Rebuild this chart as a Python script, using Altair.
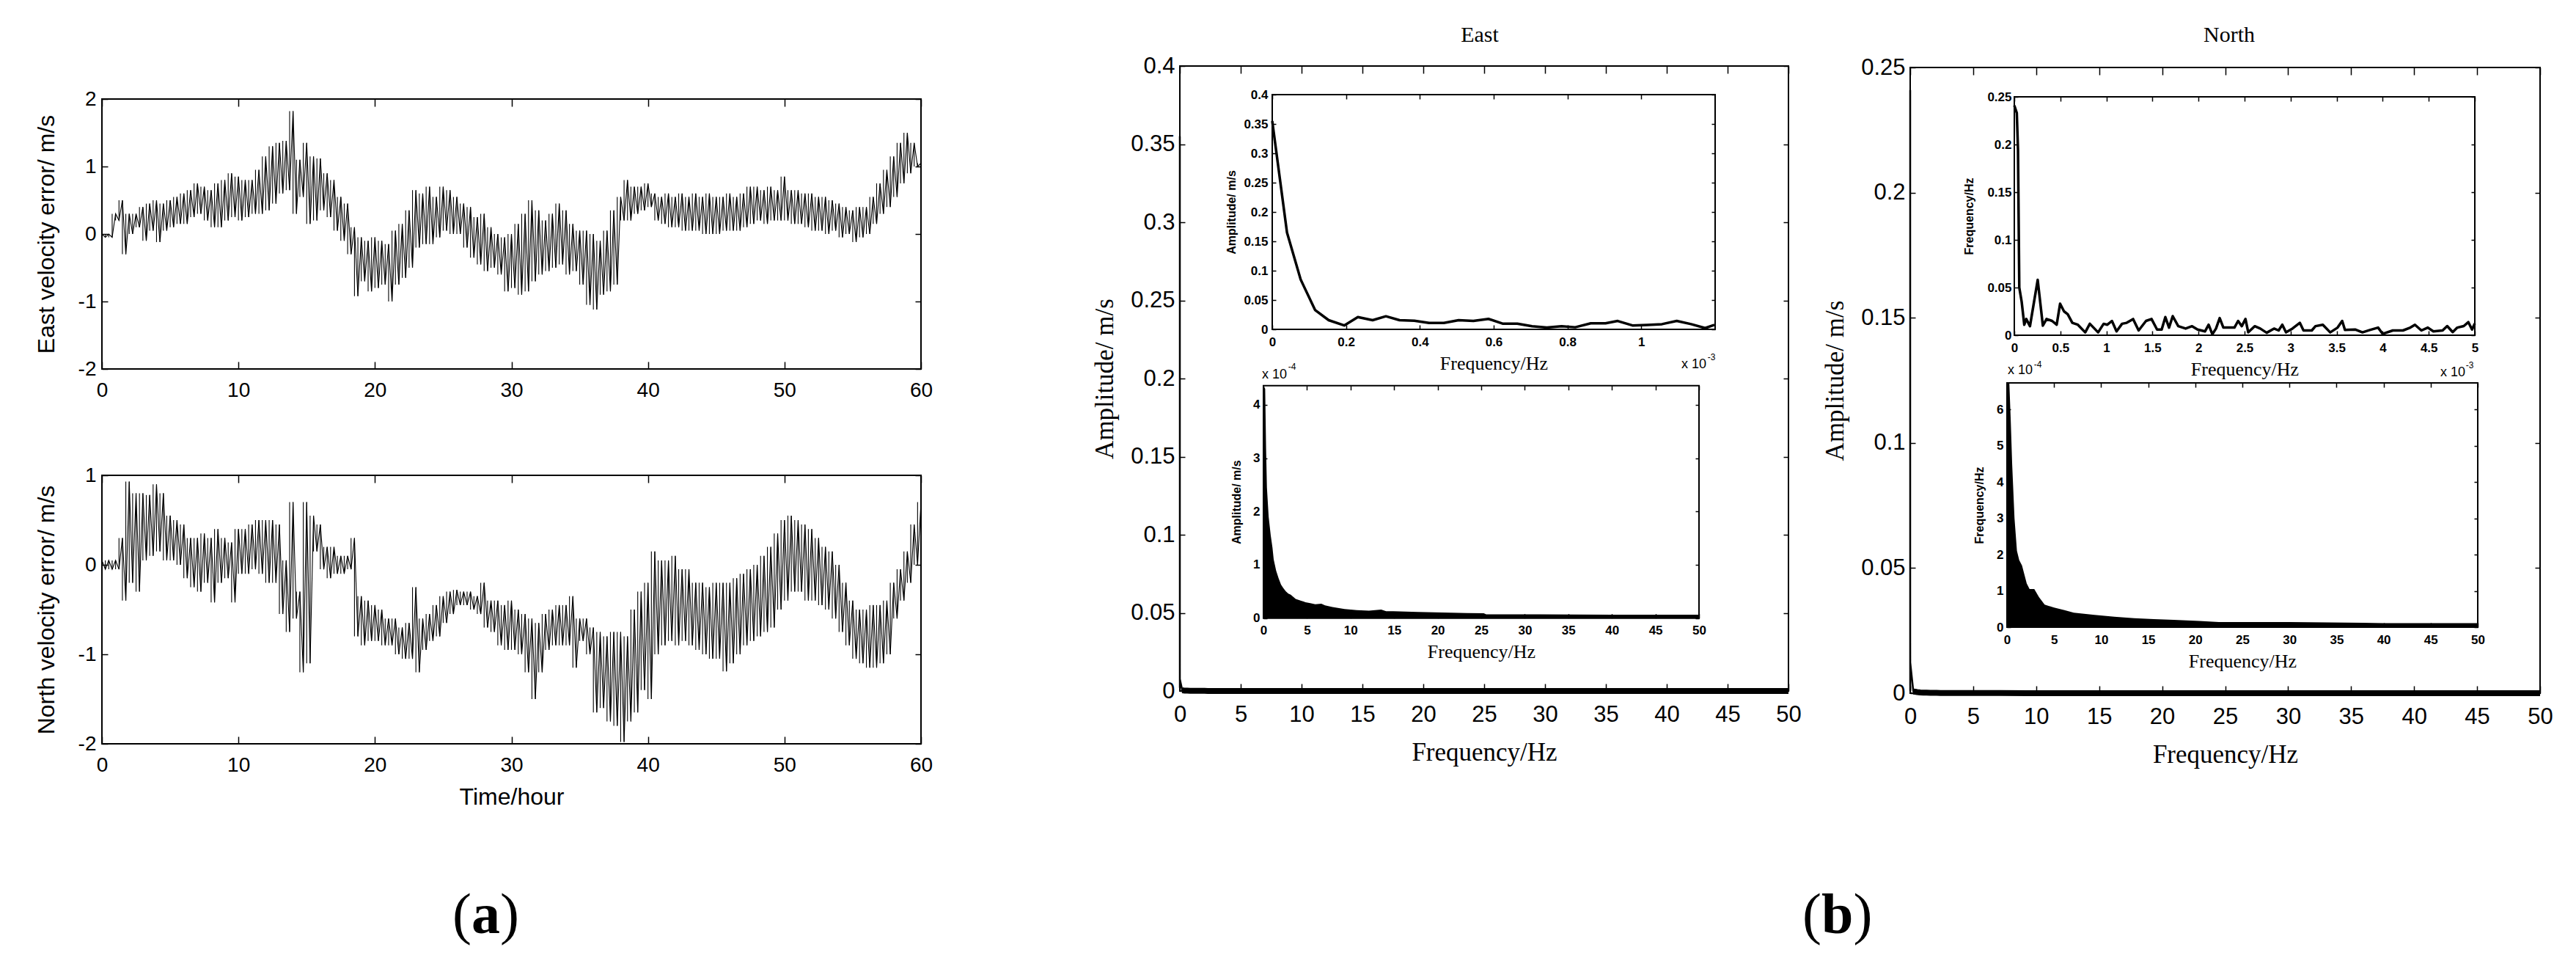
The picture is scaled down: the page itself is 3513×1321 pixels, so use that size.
import altair as alt
import pandas as pd

# ---------------- data ----------------
hours = [i / 2 for i in range(121)]  # sample grid, 0..60 h every 0.5 h

east_hi = [0.0, 0.0, 0.3, 0.5, 0.3, 0.3, 0.4, 0.45, 0.5, 0.45,
           0.5, 0.55, 0.6, 0.65, 0.75, 0.7, 0.65, 0.75, 0.8, 0.9,
           0.85, 0.8, 0.8, 0.95, 1.15, 1.3, 1.35, 1.38, 1.82, 1.1,
           1.35, 1.15, 1.12, 0.9, 0.8, 0.55, 0.45, 0.1, -0.05, -0.1,
           -0.05, -0.1, -0.15, 0.05, 0.15, 0.35, 0.65, 0.6, 0.7, 0.55,
           0.7, 0.65, 0.55, 0.45, 0.4, 0.25, 0.3, 0.1, 0.0, -0.05,
           0.0, 0.15, 0.3, 0.5, 0.35, 0.2, 0.3, 0.45, 0.35, 0.15,
           0.05, 0.05, 0.0, -0.1, 0.05, 0.35, 0.55, 0.8, 0.7, 0.7,
           0.75, 0.6, 0.55, 0.6, 0.55, 0.6, 0.55, 0.6, 0.55, 0.6,
           0.55, 0.55, 0.6, 0.55, 0.6, 0.7, 0.7, 0.65, 0.7, 0.65,
           0.85, 0.65, 0.65, 0.6, 0.6, 0.55, 0.55, 0.5, 0.45, 0.4,
           0.35, 0.4, 0.4, 0.55, 0.75, 0.95, 1.15, 1.35, 1.5, 1.35,
           1.05]
east_lo = [-0.05, -0.05, 0.2, -0.3, 0.0, 0.1, -0.1, 0.05, -0.12, 0.05,
           0.1, 0.15, 0.15, 0.25, 0.3, 0.2, 0.1, 0.1, 0.2, 0.25,
           0.2, 0.25, 0.3, 0.3, 0.35, 0.45, 0.6, 0.65, 0.3, 0.55,
           0.15, 0.2, 0.35, 0.25, 0.05, -0.1, -0.3, -0.92, -0.7, -0.85,
           -0.8, -0.75, -1.0, -0.75, -0.65, -0.5, -0.2, -0.15, -0.15, -0.05,
           0.05, 0.0, 0.0, -0.2, -0.35, -0.45, -0.55, -0.5, -0.6, -0.85,
           -0.8, -0.9, -0.85, -0.7, -0.6, -0.55, -0.5, -0.45, -0.6, -0.55,
           -0.75, -1.05, -1.12, -0.9, -0.85, -0.75, 0.2, 0.2, 0.3, 0.35,
           0.4, 0.2, 0.15, 0.1, 0.1, 0.05, 0.05, 0.05, 0.0, 0.0,
           0.0, 0.05, 0.05, 0.05, 0.1, 0.15, 0.2, 0.15, 0.2, 0.2,
           0.2, 0.15, 0.15, 0.1, 0.05, 0.05, 0.0, 0.05, -0.05, 0.0,
           -0.12, -0.05, 0.0, 0.15, 0.3, 0.4, 0.55, 0.75, 0.9, 1.0,
           0.8]
north_hi = [0.05, 0.05, 0.05, 0.3, 0.93, 0.8, 0.8, 0.78, 0.9, 0.8,
            0.55, 0.5, 0.45, 0.3, 0.3, 0.35, 0.3, 0.4, 0.3, 0.25,
            0.4, 0.4, 0.45, 0.5, 0.5, 0.5, 0.45, 0.05, 0.7, -0.3,
            0.7, 0.55, 0.45, 0.2, 0.2, 0.1, 0.1, 0.3, -0.35, -0.4,
            -0.45, -0.5, -0.6, -0.6, -0.7, -0.65, -0.25, -0.6, -0.55, -0.45,
            -0.35, -0.3, -0.28, -0.3, -0.3, -0.35, -0.2, -0.4, -0.4, -0.45,
            -0.4, -0.5, -0.55, -0.6, -0.65, -0.55, -0.5, -0.45, -0.45, -0.35,
            -0.6, -0.6, -0.7, -0.75, -0.8, -0.75, -0.75, -0.8, -0.5, -0.3,
            -0.2, 0.15, 0.05, 0.05, 0.1, -0.05, -0.05, -0.2, -0.2, -0.25,
            -0.2, -0.2, -0.2, -0.15, -0.1, -0.05, 0.0, 0.1, 0.2, 0.35,
            0.5, 0.55, 0.5, 0.45, 0.4, 0.3, 0.2, 0.15, 0.0, -0.2,
            -0.4, -0.5, -0.5, -0.45, -0.45, -0.4, -0.2, -0.05, 0.15, 0.45,
            0.7]
north_lo = [-0.05, -0.05, -0.05, -0.4, -0.2, -0.3, 0.05, 0.1, 0.15, 0.05,
            0.05, 0.0, -0.15, -0.25, -0.3, -0.2, -0.42, -0.2, -0.15, -0.42,
            -0.1, -0.1, -0.05, -0.1, -0.2, -0.2, -0.55, -0.75, -0.6, -1.2,
            -1.1, 0.15, -0.05, -0.15, -0.1, -0.1, -0.05, -0.8, -0.9, -0.85,
            -0.85, -0.9, -0.9, -1.0, -1.05, -1.05, -1.2, -0.95, -0.85, -0.8,
            -0.65, -0.55, -0.45, -0.45, -0.5, -0.55, -0.7, -0.75, -0.9, -0.95,
            -0.95, -1.0, -1.2, -1.5, -1.2, -0.95, -0.9, -0.9, -0.9, -1.15,
            -0.85, -1.0, -1.65, -1.6, -1.75, -1.8, -1.98, -1.75, -1.65, -1.4,
            -1.5, -1.0, -0.9, -0.85, -0.9, -0.85, -0.9, -0.95, -1.0, -1.05,
            -1.05, -1.19, -1.1, -1.0, -0.9, -0.85, -0.8, -0.75, -0.7, -0.5,
            -0.4, -0.3, -0.3, -0.4, -0.4, -0.45, -0.5, -0.6, -0.75, -0.9,
            -1.05, -1.1, -1.15, -1.15, -1.1, -1.0, -0.6, -0.4, -0.2, 0.0,
            0.35]

# East low-frequency spectrum (frequency in 1e-3 Hz, amplitude m/s)
e1_f = [0, 0.04, 0.077, 0.116, 0.153, 0.195, 0.232, 0.272, 0.308, 0.345, 0.385, 0.425,
        0.465, 0.505, 0.545, 0.586, 0.624, 0.664, 0.704, 0.744, 0.784, 0.821, 0.863,
        0.903, 0.936, 0.976, 1.016, 1.056, 1.096, 1.135, 1.173, 1.198]
e1_a = [0.355, 0.165, 0.085, 0.033, 0.0156, 0.0067, 0.021, 0.0156, 0.0223, 0.0156, 0.0147,
        0.011, 0.011, 0.0156, 0.0143, 0.0178, 0.0098, 0.0098, 0.0054, 0.0031, 0.0054,
        0.0036, 0.0103, 0.0103, 0.0143, 0.0067, 0.0076, 0.0089, 0.0143, 0.0089, 0.0022, 0.0076]
# East full spectrum envelope (Hz, amplitude 1e-4 m/s)
e2_f = [0, 0.2, 0.3, 0.4, 0.6, 0.84, 1.04, 1.18, 1.46, 1.74, 2.02, 2.30, 2.58, 2.86, 3.14,
        3.70, 4.26, 4.82, 5.38, 5.95, 6.65, 7.07, 7.91, 9.31, 10.71, 12.11, 13.52, 14.08,
        14.92, 17.72, 20.53, 23.33, 25.29, 25.57, 31.74, 40, 50]
e2_a = [4.36, 4.3, 3.2, 2.45, 1.9, 1.55, 1.32, 1.10, 0.89, 0.75, 0.63, 0.56, 0.50, 0.46, 0.44,
        0.36, 0.33, 0.30, 0.28, 0.26, 0.27, 0.24, 0.21, 0.17, 0.15, 0.14, 0.16, 0.13,
        0.13, 0.115, 0.106, 0.096, 0.092, 0.07, 0.073, 0.065, 0.065]
# North low-frequency spectrum (1e-3 Hz)
n1_f = [0, 0.027, 0.04, 0.054, 0.08, 0.108, 0.13, 0.17, 0.254, 0.31, 0.35, 0.41, 0.46, 0.497,
        0.54, 0.58, 0.63, 0.69, 0.77, 0.82, 0.87, 0.91, 0.97, 1.01, 1.06, 1.11, 1.17, 1.22,
        1.29, 1.35, 1.43, 1.49, 1.55, 1.60, 1.64, 1.68, 1.72, 1.78, 1.86, 1.93, 1.99, 2.07,
        2.11, 2.15, 2.19, 2.23, 2.27, 2.39, 2.43, 2.47, 2.51, 2.54, 2.61, 2.67, 2.74, 2.82,
        2.87, 2.91, 2.95, 3.02, 3.10, 3.14, 3.23, 3.27, 3.35, 3.43, 3.51, 3.56, 3.59, 3.70,
        3.78, 3.86, 3.95, 4.0, 4.11, 4.22, 4.30, 4.35, 4.42, 4.49, 4.55, 4.65, 4.70, 4.76,
        4.81, 4.88, 4.93, 4.97, 5.0]
n1_a = [0.241, 0.233, 0.195, 0.05, 0.035, 0.011, 0.017, 0.0095, 0.058, 0.01, 0.017, 0.015,
        0.011, 0.033, 0.025, 0.022, 0.013, 0.011, 0.003, 0.012, 0.007, 0.003, 0.012, 0.011,
        0.015, 0.004, 0.012, 0.013, 0.017, 0.005, 0.015, 0.017, 0.006, 0.006, 0.019, 0.008,
        0.02, 0.0095, 0.007, 0.0095, 0.006, 0.004, 0.011, 0.001, 0.007, 0.018, 0.008, 0.008,
        0.015, 0.0095, 0.017, 0.003, 0.0095, 0.007, 0.0026, 0.007, 0.005, 0.011, 0.003,
        0.007, 0.013, 0.005, 0.005, 0.0095, 0.011, 0.003, 0.008, 0.015, 0.0055, 0.006,
        0.003, 0.0055, 0.008, 0.0014, 0.005, 0.005, 0.008, 0.011, 0.005, 0.008, 0.004,
        0.005, 0.0096, 0.0033, 0.008, 0.0096, 0.0137, 0.006, 0.0123]
# North full spectrum envelope (Hz, 1e-4 m/s)
n2_f = [0, 0.25, 0.4, 0.55, 0.8, 1.06, 1.3, 1.6, 1.85, 2.1, 2.4, 2.9, 3.4, 4.0, 5.0, 6.1,
        7.1, 9.3, 11.4, 13.5, 15.6, 17.7, 20.4, 22.5, 30, 37.8, 40, 50]
n2_a = [6.73, 6.73, 5.7, 4.5, 3.0, 2.1, 1.85, 1.7, 1.45, 1.2, 1.05, 1.05, 0.83, 0.62, 0.54,
        0.47, 0.40, 0.34, 0.29, 0.25, 0.22, 0.20, 0.17, 0.14, 0.14, 0.12, 0.11, 0.11]

hour_ticks = [0, 10, 20, 30, 40, 50, 60]
vel_ticks_e = [-2, -1, 0, 1, 2]
vel_ticks_n = [-2, -1, 0, 1]
freq_ticks = [0, 5, 10, 15, 20, 25, 30, 35, 40, 45, 50]
amp_ticks_e = [0, 0.05, 0.1, 0.15, 0.2, 0.25, 0.3, 0.35, 0.4]
amp_ticks_n = [0, 0.05, 0.1, 0.15, 0.2, 0.25]
e1_xticks = [0, 0.2, 0.4, 0.6, 0.8, 1]
n1_xticks = [0, 0.5, 1, 1.5, 2, 2.5, 3, 3.5, 4, 4.5, 5]
e2_yticks = [0, 1, 2, 3, 4]
n2_yticks = [0, 1, 2, 3, 4, 5, 6]

# ---------------- layout ----------------
W, H = 3490, 1298
M = 8


def box(x0, x1, yb, yt):
    return {'x0': x0 - M, 'x1': x1 - M, 'yb': yb - M, 'yt': yt - M}


A_TOP = box(139, 1256, 503, 135)
A_BOT = box(139, 1256, 1014, 648)
E_MAIN = box(1609, 2439, 942, 90)
E_IN1 = box(1735, 2339, 449, 129)
E_IN2 = box(1723, 2317, 842.7, 525.7)
N_MAIN = box(2605, 3464, 945, 92)
N_IN1 = box(2747, 3375, 457, 132)
N_IN2 = box(2737, 3379, 855, 522)

SANS = 'Liberation Sans, Arial, sans-serif'
NARROW = 'Liberation Sans Narrow, Arial Narrow, Liberation Sans, Arial, sans-serif'
SERIF = 'Liberation Serif, Times New Roman, serif'
MINUS = "replace(datum.label, '\u2212', '-')"


def sx(p, dom):
    return alt.Scale(domain=dom, range=[p['x0'], p['x1']], nice=False, zero=False)


def sy(p, dom):
    return alt.Scale(domain=dom, range=[p['yb'], p['yt']], nice=False, zero=False)


def mk_axis(orient, p, values, tick, lab=None, title=None, tit=None):
    if orient == 'bottom':
        off = p['yb'] - tick - H
    elif orient == 'top':
        off = -(p['yt'] + tick)
    elif orient == 'left':
        off = -(p['x0'] + tick)
    else:
        off = p['x1'] - tick - W
    kw = dict(orient=orient, offset=off, values=values, tickSize=tick, tickWidth=1.5,
              tickColor='black', ticks=True, domain=False, grid=False,
              labels=lab is not None, title=title)
    if lab is not None:
        font, size, weight, pad = lab
        kw.update(format='~r', labelExpr=MINUS, labelFont=font, labelFontSize=size,
                  labelFontWeight=weight, labelPadding=pad, labelColor='black',
                  labelOverlap=False, labelFlush=False, labelBound=False)
    if title is not None:
        font, size, weight, pad = tit
        kw.update(titleFont=font, titleFontSize=size, titleFontWeight=weight,
                  titlePadding=pad, titleColor='black')
    return alt.Axis(**kw)


def frame(p, xdom, ydom, xvals, yvals, xt, yt, xlab, ylab, xtitle=None, xtit=None,
          ytitle=None, ytit=None, sw=2):
    df = pd.DataFrame({'x0': [xdom[0]], 'x1': [xdom[1]], 'y0': [ydom[0]], 'y1': [ydom[1]]})
    rect = alt.Chart(df).mark_rect(fillOpacity=0, stroke='black', strokeWidth=sw).encode(
        x=alt.X('x0:Q', scale=sx(p, xdom), axis=mk_axis('bottom', p, xvals, xt, xlab, xtitle, xtit)),
        x2='x1:Q',
        y=alt.Y('y0:Q', scale=sy(p, ydom), axis=mk_axis('left', p, yvals, yt, ylab, ytitle, ytit)),
        y2='y1:Q')
    mirror = alt.Chart(df).mark_point(opacity=0).encode(
        x=alt.X('x0:Q', scale=sx(p, xdom), axis=mk_axis('top', p, xvals, xt)),
        y=alt.Y('y0:Q', scale=sy(p, ydom), axis=mk_axis('right', p, yvals, yt)))
    return [rect, mirror]


def zig_df(hi, lo):
    t, v = [], []
    for i, h in enumerate(hours):
        t.append(h)
        v.append(hi[i])
        if i < len(hours) - 1:
            t.append(h + 0.25)
            v.append(lo[i])
    return pd.DataFrame({'t': t, 'v': v})


def ts_layers(p, hi, lo, ydom):
    z = alt.Chart(zig_df(hi, lo)).mark_line(color='black', strokeWidth=1.1).encode(
        x=alt.X('t:Q', scale=sx(p, [0, 60]), axis=None),
        y=alt.Y('v:Q', scale=sy(p, ydom), axis=None))
    r = alt.Chart(pd.DataFrame({'t': hours, 'lo': lo, 'hi': hi})).mark_rule(
        color='black', strokeWidth=1.1).encode(
        x=alt.X('t:Q', scale=sx(p, [0, 60]), axis=None),
        y=alt.Y('lo:Q', scale=sy(p, ydom), axis=None), y2='hi:Q')
    # second set of strokes half-way between samples (from a sample's low to the next high)
    r2 = alt.Chart(pd.DataFrame({'t': [h + 0.25 for h in hours[:-1]], 'lo': lo[:-1],
                                 'hi': hi[1:]})).mark_rule(
        color='black', strokeWidth=1.1).encode(
        x=alt.X('t:Q', scale=sx(p, [0, 60]), axis=None),
        y=alt.Y('lo:Q', scale=sy(p, ydom), axis=None), y2='hi:Q')
    return [z, r, r2]


def line(p, f, a, xdom, ydom, sw):
    return alt.Chart(pd.DataFrame({'f': f, 'a': a})).mark_line(
        color='black', strokeWidth=sw, strokeJoin='round').encode(
        x=alt.X('f:Q', scale=sx(p, xdom), axis=None),
        y=alt.Y('a:Q', scale=sy(p, ydom), axis=None))


def area(p, f, a, xdom, ydom):
    return alt.Chart(pd.DataFrame({'f': f, 'a': a})).mark_area(color='black').encode(
        x=alt.X('f:Q', scale=sx(p, xdom), axis=None),
        y=alt.Y('a:Q', scale=sy(p, ydom), axis=None))


def txt(s, x, y, font, size, weight='normal', angle=0, baseline='middle'):
    mk = dict(font=font, fontSize=size, fontWeight=weight, align='center',
              baseline=baseline, color='black')
    if angle:
        mk['angle'] = angle
    return alt.Chart(pd.DataFrame({'s': [s]})).mark_text(**mk).encode(
        x=alt.value(x - M), y=alt.value(y - M), text='s:N')


layers = []

# ---- panel (a) ----
lab_a = (SANS, 28, 'normal', 15)
laby_a = (SANS, 28, 'normal', 8)
layers += ts_layers(A_TOP, east_hi, east_lo, [-2, 2])
layers += frame(A_TOP, [0, 60], [-2, 2], hour_ticks, vel_ticks_e, 10, 8, lab_a, laby_a,
                ytitle='East velocity error/ m/s', ytit=(SANS, 32, 'normal', 26))
layers += ts_layers(A_BOT, north_hi, north_lo, [-2, 1])
layers += frame(A_BOT, [0, 60], [-2, 1], hour_ticks, vel_ticks_n, 10, 8, lab_a, laby_a,
                xtitle='Time/hour', xtit=(SANS, 32, 'normal', 14),
                ytitle='North velocity error/ m/s', ytit=(SANS, 32, 'normal', 26))

# ---- panel (b) main plots ----
lab_m = (NARROW, 31, 'normal', 17)
laby_m = (NARROW, 31, 'normal', 7)
tit_mx = (SERIF, 35, 'normal', 19)
tit_my = (SERIF, 35, 'normal', 17)


def main_layers(p, f1, a1, f2, a2, ydom, yvals):
    full_f = [v * 1e-3 for v in f1] + f2[1:]
    full_a = a1 + [v * 1e-4 for v in a2[1:]]
    low_f = f2[1:]
    low_a = [v * 1e-4 for v in a2[1:]]
    out = [line(p, full_f, full_a, [0, 50], ydom, 2.5),
           line(p, low_f, low_a, [0, 50], ydom, 8)]
    out += frame(p, [0, 50], ydom, freq_ticks, yvals, 10, 7, lab_m, laby_m,
                 xtitle='Frequency/Hz', xtit=tit_mx, ytitle='Amplitude/ m/s', ytit=tit_my)
    return out


layers += main_layers(E_MAIN, e1_f, e1_a, e2_f, e2_a, [0, 0.4], amp_ticks_e)
layers += main_layers(N_MAIN, n1_f, n1_a, n2_f, n2_a, [0, 0.25], amp_ticks_n)

# ---- insets ----
lab_i = (SANS, 17, 'bold', 9)
tit_ix = (SERIF, 26, 'normal', 8)

layers.append(line(E_IN1, e1_f, e1_a, [0, 1.2], [0, 0.4], 3.5))
layers += frame(E_IN1, [0, 1.2], [0, 0.4], e1_xticks, amp_ticks_e, 6, 5, lab_i,
                (SANS, 17, 'bold', 6), xtitle='Frequency/Hz', xtit=tit_ix,
                ytitle='Amplitude/ m/s', ytit=(SANS, 16, 'bold', 8))
layers.append(area(E_IN2, e2_f, e2_a, [0, 50], [0, 4.36]))
layers += frame(E_IN2, [0, 50], [0, 4.36], freq_ticks, e2_yticks, 6, 5, lab_i,
                (SANS, 17, 'bold', 5), xtitle='Frequency/Hz', xtit=tit_ix,
                ytitle='Amplitude/ m/s', ytit=(SANS, 16, 'bold', 14))
layers.append(line(N_IN1, n1_f, n1_a, [0, 5], [0, 0.25], 3.5))
layers += frame(N_IN1, [0, 5], [0, 0.25], n1_xticks, amp_ticks_n, 6, 5, lab_i,
                (SANS, 17, 'bold', 4), xtitle='Frequency/Hz', xtit=tit_ix,
                ytitle='Frequency/Hz', ytit=(SANS, 16, 'bold', 16))
layers.append(area(N_IN2, n2_f, n2_a, [0, 50], [0, 6.73]))
layers += frame(N_IN2, [0, 50], [0, 6.73], freq_ticks, n2_yticks, 6, 5, lab_i,
                (SANS, 17, 'bold', 5), xtitle='Frequency/Hz', xtit=tit_ix,
                ytitle='Frequency/Hz', ytit=(SANS, 16, 'bold', 15))

# ---- texts ----
layers += [
    txt('East', 2018, 48, SERIF, 30),
    txt('North', 3040, 48, SERIF, 30),
    txt('x 10', 2310, 497, SANS, 18), txt('-3', 2334, 487, SANS, 12),
    txt('x 10', 1738, 511, SANS, 18), txt('-4', 1762, 500, SANS, 12),
    txt('x 10', 3345, 508, SANS, 18), txt('-3', 3368, 498, SANS, 12),
    txt('x 10', 2755, 505, SANS, 18), txt('-4', 2779, 497, SANS, 12),
    txt('(', 630, 1272, SERIF, 78, baseline='alphabetic'),
    txt('a', 662.5, 1272, SERIF, 78, 'bold', baseline='alphabetic'),
    txt(')', 695, 1272, SERIF, 78, baseline='alphabetic'),
    txt('(', 2471, 1272, SERIF, 78, baseline='alphabetic'),
    txt('b', 2505.7, 1272, SERIF, 78, 'bold', baseline='alphabetic'),
    txt(')', 2540.4, 1272, SERIF, 78, baseline='alphabetic'),
]

chart = alt.layer(*layers).resolve_scale(
    x='independent', y='independent'
).resolve_axis(
    x='independent', y='independent'
).properties(
    width=W, height=H, padding=0, background='white',
    autosize=alt.AutoSizeParams(type='none')
).configure_view(stroke=None)

chart.save('out.html', embed_options={'renderer': 'svg', 'actions': False})
